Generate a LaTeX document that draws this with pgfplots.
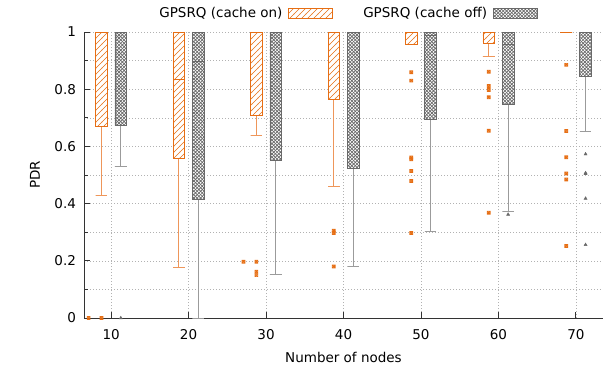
\documentclass[border=0pt]{standalone}
\usepackage{fontspec}
\setmainfont{DejaVu Sans}
\usepackage{pgfplots}
\pgfplotsset{compat=1.18}
\usetikzlibrary{patterns}
\definecolor{cOn}{RGB}{230,110,20}
\definecolor{cOnW}{RGB}{238,150,90}
\definecolor{cOff}{RGB}{105,105,105}
\definecolor{cOffW}{RGB}{155,155,155}
\pgfdeclarepatternformonly{mylines}{\pgfqpoint{-1pt}{-1pt}}{\pgfqpoint{7pt}{7pt}}{\pgfqpoint{6pt}{6pt}}{%
  \pgfsetlinewidth{0.65pt}%
  \pgfpathmoveto{\pgfqpoint{-0.1pt}{-0.1pt}}%
  \pgfpathlineto{\pgfqpoint{6.1pt}{6.1pt}}%
  \pgfusepath{stroke}}
\pgfdeclarepatternformonly{myhatch}{\pgfqpoint{-1pt}{-1pt}}{\pgfqpoint{4.4pt}{4.4pt}}{\pgfqpoint{3.4pt}{3.4pt}}{%
  \pgfsetlinewidth{0.65pt}%
  \pgfpathmoveto{\pgfqpoint{-0.1pt}{-0.1pt}}%
  \pgfpathlineto{\pgfqpoint{3.5pt}{3.5pt}}%
  \pgfpathmoveto{\pgfqpoint{-0.1pt}{3.5pt}}%
  \pgfpathlineto{\pgfqpoint{3.5pt}{-0.1pt}}%
  \pgfusepath{stroke}}
\pgfdeclareplotmark{boxx}{%
  \pgfpathrectangle{\pgfqpoint{-\pgfplotmarksize}{-\pgfplotmarksize}}{\pgfqpoint{2\pgfplotmarksize}{2\pgfplotmarksize}}%
  \pgfpathmoveto{\pgfqpoint{-\pgfplotmarksize}{-\pgfplotmarksize}}%
  \pgfpathlineto{\pgfqpoint{\pgfplotmarksize}{\pgfplotmarksize}}%
  \pgfpathmoveto{\pgfqpoint{-\pgfplotmarksize}{\pgfplotmarksize}}%
  \pgfpathlineto{\pgfqpoint{\pgfplotmarksize}{-\pgfplotmarksize}}%
  \pgfusepathqstroke}
% #1 style prefix (on/off), #2 position, #3 lower whisker, #4 lower quartile, #5 median, #6 upper quartile, #7 upper whisker
\newcommand{\bplot}[7]{%
  \pgfmathsetmacro\bxL{#2-0.75}\pgfmathsetmacro\bxR{#2+0.75}%
  \addplot[#1whisk] coordinates {(#2,#4) (#2,#3) (\bxL,#3) (\bxR,#3)};
  \addplot[#1whisk] coordinates {(#2,#6) (#2,#7) (\bxL,#7) (\bxR,#7)};
  \addplot[#1box] coordinates {(\bxL,#4) (\bxR,#4) (\bxR,#6) (\bxL,#6)} -- cycle;
  \addplot[#1med] coordinates {(\bxL,#5) (\bxR,#5)};
}
\pgfplotsset{
  onwhisk/.style={cOnW, line width=1pt, forget plot, mark=none},
  onmed/.style={cOn, line width=0.8pt, forget plot, mark=none},
  onbox/.style={draw=cOn, line width=0.8pt, forget plot, mark=none, fill=white, postaction={pattern=mylines, pattern color=cOn}},
  offwhisk/.style={cOffW, line width=1pt, forget plot, mark=none},
  offmed/.style={cOff, line width=0.8pt, forget plot, mark=none},
  offbox/.style={draw=cOff, line width=0.8pt, forget plot, mark=none, fill=white, postaction={pattern=myhatch, pattern color=cOff}},
}
\begin{document}
\begin{tikzpicture}[font=\fontsize{13.5}{16}\selectfont]
\begin{axis}[name=ax,
  scale only axis, width=519pt, height=286pt,
  xmin=6.5, xmax=73.5, ymin=0, ymax=1,
  axis x line*=bottom, axis y line*=left,
  axis line style={black!80, line width=0.8pt},
  xtick={10,20,30,40,50,60,70}, ytick={0,0.2,0.4,0.6,0.8,1}, minor y tick num=1,
  tick style={black!80, line width=0.8pt},
  major tick length=6pt, minor tick length=4pt,
  grid=both,
  major grid style={gray!60, line width=0.6pt, dash pattern=on 1pt off 2pt},
  minor grid style={gray!60, line width=0.6pt, dash pattern=on 1pt off 2pt},
  /pgf/number format/assume math mode=true,
  yticklabel style={xshift=-4.5pt},
  xticklabel style={anchor=center, yshift=-16.5pt},
  xlabel={Number of nodes}, ylabel={PDR},
  xlabel style={at={(axis description cs:0.5,-0.138)}, anchor=center},
  ylabel style={at={(axis description cs:-0.0944,0.5)}, anchor=center},
  clip=false,
  legend plot pos=right,
  legend columns=2,
  legend style={draw=none, fill=none, at={(0.508,1.066)}, anchor=center,
    /tikz/every even column/.append style={column sep=28pt},
    /tikz/every odd column/.append style={column sep=4pt}},
]
% cache on: position, lower whisker, lower quartile, median, upper quartile, upper whisker
\bplot{on}{8.75}{0.430}{0.671}{1}{1}{1}
\bplot{on}{18.75}{0.177}{0.558}{0.835}{1}{1}
\bplot{on}{28.75}{0.637}{0.710}{1}{1}{1}
\bplot{on}{38.75}{0.461}{0.766}{1}{1}{1}
\bplot{on}{48.75}{0.958}{0.958}{1}{1}{1}
\bplot{on}{58.75}{0.916}{0.960}{1}{1}{1}
\bplot{on}{68.75}{1}{1}{1}{1}{1}
% cache off
\bplot{off}{11.25}{0.531}{0.673}{1}{1}{1}
\bplot{off}{21.25}{0}{0.413}{0.896}{1}{1}
\bplot{off}{31.25}{0.152}{0.552}{1}{1}{1}
\bplot{off}{41.25}{0.180}{0.524}{1}{1}{1}
\bplot{off}{51.25}{0.302}{0.696}{0.988}{1}{1}
\bplot{off}{61.25}{0.373}{0.747}{0.957}{1}{1}
\bplot{off}{71.25}{0.652}{0.845}{1}{1}{1}
% outliers
\addplot[only marks, forget plot, mark=boxx, mark size=1.5pt, cOn, line width=0.7pt] coordinates {
 (7.1,0) (8.75,0)
 (27.1,0.197) (28.75,0.197) (28.75,0.162) (28.75,0.150)
 (38.75,0.305) (38.75,0.297) (38.75,0.18)
 (48.75,0.859) (48.75,0.830) (48.75,0.561) (48.75,0.555) (48.75,0.514) (48.75,0.479) (48.75,0.297)
 (58.75,0.861) (58.75,0.811) (58.75,0.797) (58.75,0.772) (58.75,0.655) (58.75,0.368)
 (68.75,0.885) (68.75,0.654) (68.75,0.562) (68.75,0.505) (68.75,0.484) (68.75,0.252)
};
\addplot[only marks, forget plot, mark=triangle*, mark size=1.8pt, cOff] coordinates {
 (11.25,0) (61.25,0.362)
 (71.25,0.573) (71.25,0.507) (71.25,0.504) (71.25,0.418) (71.25,0.256)
};
\addlegendimage{legend image code/.code={\draw[cOn, line width=0.8pt, fill=white, postaction={pattern=mylines, pattern color=cOn}] (0pt,-5pt) rectangle (44pt,5pt);}}
\addlegendentry{GPSRQ (cache on)}
\addlegendimage{legend image code/.code={\draw[cOff, line width=0.8pt, fill=white, postaction={pattern=myhatch, pattern color=cOff}] (0pt,-5pt) rectangle (44pt,5pt);}}
\addlegendentry{GPSRQ (cache off)}
\end{axis}
\path ([xshift=-84pt,yshift=32pt]ax.north west) rectangle ([xshift=2pt,yshift=-50pt]ax.south east);
\end{tikzpicture}
\end{document}
